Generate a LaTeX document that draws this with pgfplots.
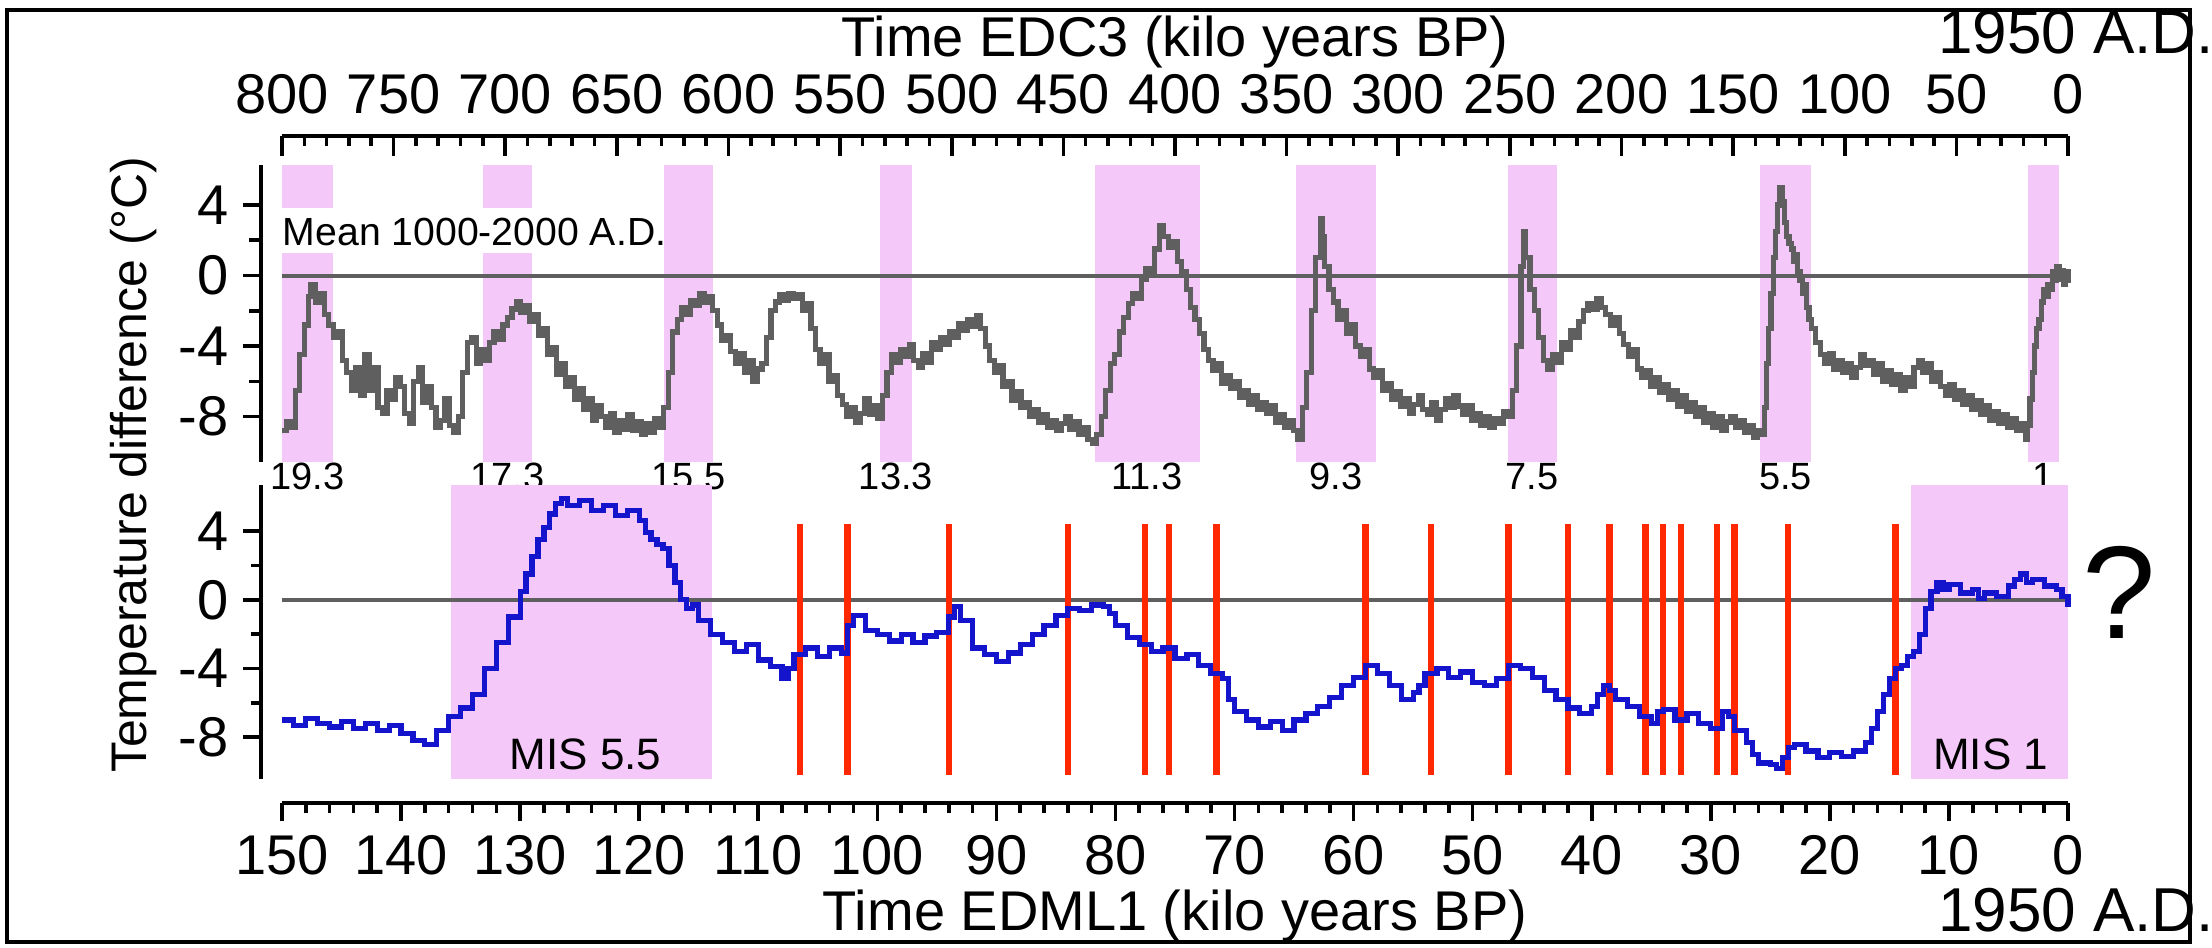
\documentclass[border=0pt]{standalone}
\usepackage{pgfplots}
\pgfplotsset{compat=1.18}
\usepackage{pgfplotstable}
\usepackage{fontspec}
\setmainfont{Liberation Sans}
\definecolor{pinkb}{RGB}{245,200,250}
\definecolor{curvegray}{RGB}{95,95,95}
\definecolor{curveblue}{RGB}{20,20,205}
\definecolor{redl}{RGB}{255,40,0}
\pgfplotstableread{
x y
800 -8.8
798 -8.3
796 -8.6
794 -6.5
792 -4.5
790 -2.8
788 -1.2
787 -0.5
785 -1.5
783 -1.0
781 -2.2
779 -2.8
777 -3.5
775 -3.2
773 -4.8
771 -5.5
769 -6.5
767 -5.2
765 -6.8
763 -4.5
761 -6.5
759 -5.2
757 -7.5
755 -7.8
753 -6.5
751 -7.0
749 -5.8
747 -6.3
745 -7.8
743 -8.4
741 -6.0
739 -5.2
737 -7.2
735 -6.3
733 -7.5
731 -8.6
729 -8.2
727 -7.0
725 -8.5
723 -8.9
721 -8.0
719 -5.5
717 -3.8
715 -3.5
713 -5.0
711 -4.2
709 -4.8
707 -3.8
705 -3.2
703 -3.6
701 -2.8
699 -2.4
697 -1.9
695 -1.5
693 -2.1
691 -1.7
689 -2.6
687 -2.2
685 -3.4
683 -3.0
681 -4.5
679 -4.1
677 -5.6
675 -5.0
673 -6.3
671 -5.8
669 -7.0
667 -6.4
665 -7.6
663 -7.0
661 -8.2
659 -7.4
657 -8.0
655 -8.6
653 -7.8
651 -8.9
649 -8.2
647 -8.7
645 -7.9
643 -8.8
641 -8.3
639 -9.0
637 -8.4
635 -8.9
633 -8.1
631 -8.6
629 -7.5
627 -5.5
625 -3.2
623 -2.5
621 -1.8
619 -2.2
617 -1.4
615 -1.7
613 -1.0
611 -1.5
609 -1.2
607 -2.0
605 -2.8
603 -3.7
601 -3.4
599 -4.3
597 -5.0
595 -4.4
593 -5.5
591 -4.8
589 -6.0
587 -5.3
585 -5.0
583 -3.5
581 -2.0
579 -1.5
577 -1.1
575 -1.4
573 -1.0
571 -1.3
569 -1.1
567 -2.0
565 -1.6
563 -3.0
561 -4.2
559 -5.0
557 -4.5
555 -6.0
553 -5.7
551 -6.8
549 -7.3
547 -8.0
545 -7.5
543 -8.3
541 -7.8
539 -7.0
537 -7.9
535 -7.4
533 -8.1
531 -6.8
529 -5.5
527 -4.5
525 -4.9
523 -4.2
521 -4.6
519 -3.9
517 -4.8
515 -5.2
513 -4.4
511 -4.9
509 -3.8
507 -4.2
505 -3.5
503 -3.9
501 -3.2
499 -3.5
497 -2.7
495 -3.1
493 -2.5
491 -2.9
489 -2.3
487 -3.0
485 -4.0
483 -4.8
481 -5.5
479 -5.1
477 -6.3
475 -6.0
473 -7.1
471 -6.6
469 -7.5
467 -7.2
465 -8.0
463 -7.6
461 -8.3
459 -7.9
457 -8.6
455 -8.2
453 -8.8
451 -8.4
449 -8.0
447 -8.7
445 -8.3
443 -9.0
441 -8.6
439 -9.3
437 -9.5
435 -9.0
433 -8.0
431 -6.5
429 -5.0
427 -4.5
425 -3.2
423 -2.4
421 -1.6
419 -1.0
417 -1.3
415 -0.2
413 0.4
411 0.1
409 1.5
407 2.8
405 2.2
403 1.6
401 1.9
399 0.8
397 0.2
395 -0.8
393 -1.8
391 -2.5
389 -3.3
387 -4.2
385 -4.8
383 -5.4
381 -5.0
379 -6.1
377 -5.7
375 -6.4
373 -6.0
371 -6.9
369 -6.5
367 -7.3
365 -6.8
363 -7.6
361 -7.2
359 -7.8
357 -7.4
355 -8.3
353 -7.9
351 -8.6
349 -8.2
347 -8.8
345 -9.3
343 -7.5
341 -5.5
339 -2.0
337 1.0
335 3.2
334 2.2
333 0.5
331 -0.8
329 -1.5
327 -2.5
325 -2.0
323 -3.3
321 -2.8
319 -4.0
317 -4.6
315 -4.2
313 -5.3
311 -5.8
309 -5.4
307 -6.5
305 -6.1
303 -7.0
301 -6.6
299 -7.4
297 -7.0
295 -7.8
293 -7.3
291 -6.8
289 -7.6
287 -7.9
285 -7.2
283 -8.2
281 -7.6
279 -7.0
277 -7.5
275 -6.8
273 -7.4
271 -7.9
269 -7.4
267 -8.2
265 -7.8
263 -8.5
261 -8.0
259 -8.6
257 -8.1
255 -8.4
253 -7.7
251 -8.0
249 -6.5
247 -4.0
245 0.5
244 2.5
243 1.0
241 -0.8
239 -2.0
237 -3.5
235 -4.8
233 -5.3
231 -4.5
229 -4.9
227 -3.8
225 -4.2
223 -3.1
221 -3.5
219 -2.6
217 -2.0
215 -1.6
213 -1.9
211 -1.3
209 -1.8
207 -2.2
205 -2.8
203 -2.4
201 -3.3
199 -3.9
197 -4.6
195 -4.2
193 -5.3
191 -5.8
189 -5.4
187 -6.3
185 -5.8
183 -6.6
181 -6.2
179 -7.0
177 -6.5
175 -7.4
173 -6.8
171 -7.7
169 -7.2
167 -8.0
165 -7.5
163 -8.3
161 -7.8
159 -8.6
157 -8.0
155 -8.8
153 -8.3
151 -8.0
149 -8.6
147 -8.2
145 -8.9
143 -8.5
141 -9.2
139 -8.8
137 -9.0
136 -7.5
135 -5.0
134 -3.0
133 -1.0
132 1.0
131 2.5
130 4.0
129 5.0
128 4.2
127 3.0
126 2.2
125 1.8
124 1.5
123 0.8
122 1.2
121 0.2
120 -0.3
119 -1.0
118 -0.5
117 -1.8
116 -2.5
115 -3.0
113 -3.8
111 -4.5
109 -5.0
107 -4.4
105 -5.3
103 -4.8
101 -5.5
99 -5.0
97 -5.8
95 -5.2
93 -4.5
91 -5.1
89 -4.8
87 -5.6
85 -5.0
83 -6.0
81 -5.4
79 -6.2
77 -5.6
75 -6.5
73 -5.8
71 -6.3
69 -5.2
67 -4.8
65 -5.5
63 -5.0
61 -6.0
59 -5.5
57 -6.3
55 -6.8
53 -6.2
51 -7.0
49 -6.5
47 -7.3
45 -6.8
43 -7.6
41 -7.1
39 -7.9
37 -7.4
35 -8.2
33 -7.7
31 -8.4
29 -7.9
27 -8.6
25 -8.1
23 -8.8
21 -8.4
19 -9.3
18 -8.5
17 -7.0
16 -5.5
15 -4.0
14 -3.0
13 -2.5
12 -1.5
11 -0.8
10 -1.2
9 -0.5
8 -0.8
7 0.2
6 -0.3
5 0.5
4 -0.2
3 0.3
2 -0.5
1 0.2
0 -0.4
}\edc
\pgfplotstableread{
x y
150 -7.0
149 -7.3
148 -6.9
147 -7.2
146 -7.4
145 -7.1
144 -7.5
143 -7.2
142 -7.6
141 -7.3
140 -7.8
139 -8.2
138 -8.4
137 -7.6
136 -6.8
135 -6.3
134 -5.5
133 -4.0
132 -2.5
131 -1.0
130 0.5
129.5 1.5
129 2.5
128.5 3.5
128 4.2
127.5 5.0
127 5.6
126.5 5.9
126 5.5
125 5.8
124 5.2
123 5.5
122 4.9
121 5.2
120 4.6
119.5 3.9
119 3.5
118.5 3.2
118 3.0
117.5 2.0
117 1.0
116.5 0.0
116 -0.5
115.5 -0.3
115 -1.2
114 -2.0
113 -2.5
112 -3.0
111 -2.6
110 -3.5
109 -3.9
108 -4.6
107.5 -4.0
107 -3.2
106 -2.8
105 -3.3
104 -2.8
103 -3.1
102.5 -1.5
102 -0.9
101 -1.8
100 -2.0
99 -2.4
98 -2.0
97 -2.5
96 -2.1
95 -1.9
94 -1.0
93.5 -0.4
93 -1.2
92 -2.8
91 -3.2
90 -3.6
89 -3.1
88 -2.6
87 -2.0
86 -1.5
85 -0.9
84 -0.5
83 -0.6
82 -0.3
81 -0.4
80.5 -0.8
80 -1.5
79 -2.2
78 -2.6
77 -3.0
76 -2.8
75 -3.4
74 -3.2
73 -3.8
72 -4.3
71 -4.6
70.5 -5.8
70 -6.5
69 -7.0
68 -7.4
67 -7.1
66 -7.6
65 -7.0
64 -6.6
63 -6.2
62 -5.7
61 -5.0
60 -4.5
59 -3.8
58 -4.3
57 -5.0
56 -5.8
55 -5.4
54.5 -5.0
54 -4.3
53 -4.0
52 -4.5
51 -4.2
50 -4.8
49 -5.0
48 -4.6
47 -3.8
46 -4.0
45 -4.5
44 -5.3
43 -5.8
42 -6.3
41 -6.6
40 -6.2
39.5 -5.5
39 -5.0
38.5 -5.3
38 -5.8
37 -6.2
36 -6.8
35 -7.2
34.5 -6.5
34 -6.4
33 -7.0
32 -6.6
31 -7.2
30 -7.5
29 -6.5
28.5 -6.8
28 -7.6
27 -8.3
26.5 -9.0
26 -9.5
25 -9.6
24.5 -9.8
24 -9.2
23.5 -8.6
23 -8.4
22 -8.8
21 -9.2
20 -8.9
19 -9.1
18 -8.8
17 -8.3
16.5 -7.5
16 -6.5
15.5 -5.5
15 -4.6
14.5 -4.0
14 -3.8
13.5 -3.3
13 -3.0
12.5 -2.0
12 -0.5
11.5 0.5
11 1.0
10.5 0.6
10 0.9
9 0.4
8 0.6
7.5 0.1
7 0.4
6 0.2
5 0.8
4.5 1.2
4 1.5
3.5 1.0
3 1.2
2 0.8
1 0.6
0.5 0.2
0 -0.4
}\edml
\begin{document}
\begin{tikzpicture}
\useasboundingbox (0pt,0pt) rectangle (553pt,236.75pt);
\draw[line width=1pt] (1.75pt,1.25pt) rectangle (547.4pt,234.2pt);
\pgfplotsset{every axis/.append style={/pgf/number format/assume math mode=true, font=\fontsize{14}{16}\selectfont, scale only axis, clip=false, axis line style={line width=0.9pt}, every tick/.style={line width=0.9pt}}}
% top tick axis
\begin{axis}[at={(70.5pt,202.8pt)}, anchor=north west, width=446.5pt, height=5pt,
  xmin=0, xmax=800, x dir=reverse, ymin=0, ymax=1,
  axis x line*=top, axis y line=none, tick align=inside,
  xtick={0,50,...,800}, minor x tick num=4, major tick length=5pt, minor tick length=2.5pt,
  xticklabel pos=top, xticklabel style={yshift=2pt},
  xlabel={Time EDC3 (kilo years BP)}, xlabel style={yshift=-5.5pt}]
\end{axis}
% top panel
\begin{axis}[at={(70.5pt,121.3pt)}, anchor=south west, width=446.5pt, height=74.1pt,
  xmin=0, xmax=800, x dir=reverse, ymin=-10.56, ymax=6.24,
  axis x line=none, axis y line*=left, axis y line shift=5.3pt,
  ytick={-8,-4,0,4}, yticklabels={-8,-4,0,4}, minor y tick num=1, tick align=outside, major tick length=4.5pt, minor tick length=3pt]
\foreach \a/\b in {800/777,710/688,629/607,532/518,436/389,346/310,251/229,138/115,18/4}{
  \edef\tmp{\noexpand\addplot[fill=pinkb, draw=none] coordinates {(\a,-10.56) (\b,-10.56) (\b,6.24) (\a,6.24)} --cycle;}\tmp}
\addplot[fill=white, draw=none] coordinates {(800,1.3) (686,1.3) (686,3.8) (800,3.8)} --cycle;
\node[anchor=west, inner sep=0pt, font=\fontsize{9.8}{11}\selectfont] at (axis cs:800,2.45) {Mean 1000-2000 A.D.};
\addplot[curvegray, line width=1pt] coordinates {(800,0) (0,0)};
\addplot[const plot, curvegray, line width=1.3pt] table {\edc};
\foreach \p/\l in {788.5/19.3,699/17.3,618/15.5,525/13.3,412.5/11.3,328/9.3,240/7.5,126.5/5.5,11/1}{
  \edef\tmp{\noexpand\node[font=\noexpand\fontsize{9.5}{10}\noexpand\selectfont] at (axis cs:\p,-11.4) {\l};}\tmp}
\end{axis}
% bottom panel
\begin{axis}[at={(70.5pt,42pt)}, anchor=south west, width=446.5pt, height=73.4pt,
  xmin=0, xmax=150, x dir=reverse, ymin=-10.43, ymax=6.66,
  axis x line*=bottom, axis x line shift=6pt, axis y line*=left, axis y line shift=5.3pt,
  xtick={0,10,...,150}, minor x tick num=4,
  ytick={-8,-4,0,4}, yticklabels={-8,-4,0,4}, minor y tick num=1, tick align=outside, major tick length=4.5pt, minor tick length=2.5pt,
  xlabel={Time EDML1 (kilo years BP)}, xlabel style={yshift=3pt}]
\addplot[fill=pinkb, draw=none] coordinates {(135.8,-10.43) (113.9,-10.43) (113.9,6.66) (135.8,6.66)} --cycle;
\addplot[fill=pinkb, draw=none] coordinates {(13.2,-10.43) (0,-10.43) (0,6.66) (13.2,6.66)} --cycle;
\addplot[curvegray, line width=1pt] coordinates {(150,0) (0,0)};
\addplot[redl, line width=1.6pt, unbounded coords=jump] coordinates {
(106.5,4.4) (106.5,-10.2) (106.5,nan)
(102.5,4.4) (102.5,-10.2) (102.5,nan)
(94,4.4) (94,-10.2) (94,nan)
(84,4.4) (84,-10.2) (84,nan)
(77.5,4.4) (77.5,-10.2) (77.5,nan)
(75.5,4.4) (75.5,-10.2) (75.5,nan)
(71.5,4.4) (71.5,-10.2) (71.5,nan)
(59,4.4) (59,-10.2) (59,nan)
(53.5,4.4) (53.5,-10.2) (53.5,nan)
(47,4.4) (47,-10.2) (47,nan)
(42,4.4) (42,-10.2) (42,nan)
(38.5,4.4) (38.5,-10.2) (38.5,nan)
(35.5,4.4) (35.5,-10.2) (35.5,nan)
(34,4.4) (34,-10.2) (34,nan)
(32.5,4.4) (32.5,-10.2) (32.5,nan)
(29.5,4.4) (29.5,-10.2) (29.5,nan)
(28,4.4) (28,-10.2) (28,nan)
(23.5,4.4) (23.5,-10.2) (23.5,nan)
(14.5,4.4) (14.5,-10.2)};
\addplot[const plot, curveblue, line width=1.3pt] table {\edml};
\node[font=\fontsize{11}{13}\selectfont] at (axis cs:124.5,-9.0) {MIS 5.5};
\node[font=\fontsize{11}{13}\selectfont] at (axis cs:6.5,-9.0) {MIS 1};
\end{axis}
\node[rotate=90, font=\fontsize{12.5}{14}\selectfont] at (33.5pt,120.6pt) {Temperature difference (°C)};
\node[font=\fontsize{15.5}{17}\selectfont] at (519pt,228.6pt) {1950 A.D.};
\node[font=\fontsize{15.5}{17}\selectfont] at (519pt,9.2pt) {1950 A.D.};
\node[font=\fontsize{33}{35}\selectfont] at (529.8pt,88.75pt) {?};
\end{tikzpicture}
\end{document}
